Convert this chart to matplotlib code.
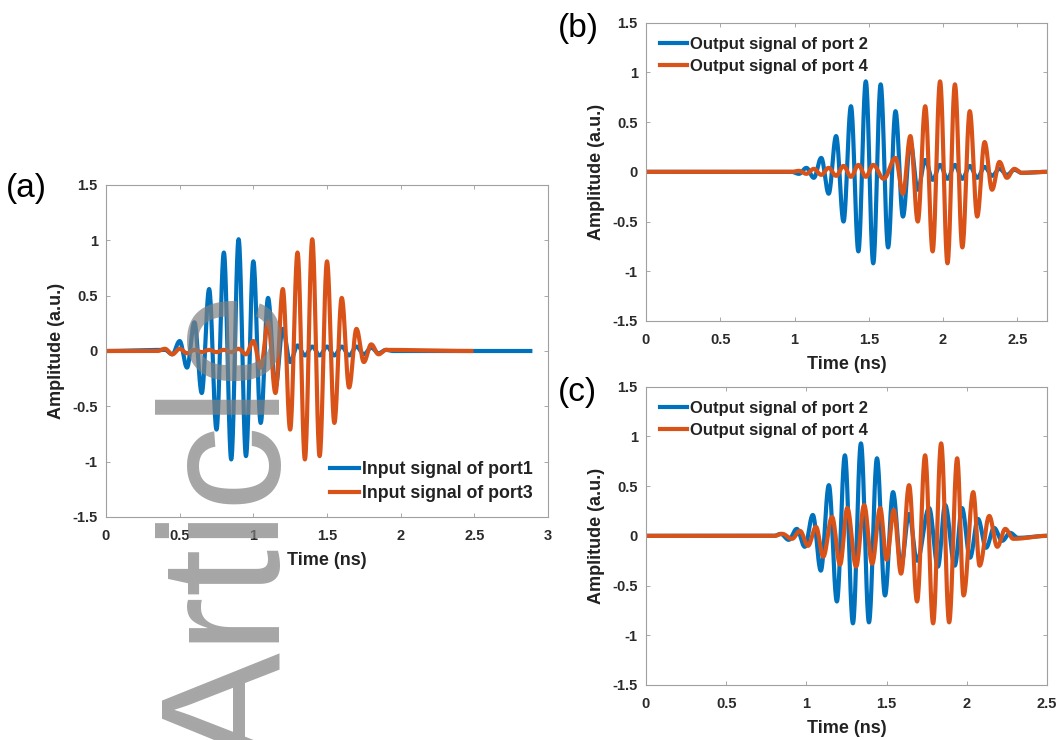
import matplotlib
matplotlib.use("Agg")
import matplotlib.pyplot as plt
import numpy as np
from matplotlib.ticker import FuncFormatter

plt.rcParams['font.family'] = ['Liberation Sans', 'DejaVu Sans']

BLUE = '#0072BD'
ORANGE = '#D95319'

# Extrema (time in ns, amplitude), panel (a)
ta_blue = [0.00, 0.40, 0.45, 0.50, 0.55, 0.60, 0.65, 0.70, 0.75, 0.80, 0.85, 0.90,
           0.95, 1.00, 1.05, 1.10, 1.15, 1.20, 1.25, 1.30, 1.35, 1.40, 1.45, 1.50,
           1.55, 1.60, 1.65, 1.70, 1.75, 1.80, 1.85, 1.90, 1.95, 2.88]
ya_blue = [0.00, 0.01, -0.03, 0.09, -0.15, 0.26, -0.38, 0.56, -0.71, 0.89, -0.98, 1.01,
           -0.95, 0.81, -0.65, 0.48, -0.33, 0.20, -0.10, 0.05, -0.04, 0.04, -0.04, 0.04,
           -0.04, 0.04, -0.04, 0.04, -0.03, 0.03, -0.02, 0.01, 0.00, 0.00]
ta_orange = [0.00, 0.35, 0.40, 0.45, 0.50, 0.55, 0.60, 0.65, 0.70, 0.75, 0.80, 0.85,
             0.90, 0.95, 1.00, 1.05, 1.10, 1.15, 1.20, 1.25, 1.30, 1.35, 1.40, 1.45,
             1.50, 1.55, 1.60, 1.65, 1.70, 1.75, 1.80, 1.85, 1.90, 2.48]
ya_orange = [0.00, 0.00, 0.02, -0.03, 0.02, -0.02, 0.01, -0.01, 0.01, -0.01, 0.01, -0.01,
             0.02, -0.03, 0.09, -0.15, 0.26, -0.38, 0.56, -0.71, 0.89, -0.98, 1.01, -0.95,
             0.81, -0.65, 0.48, -0.33, 0.20, -0.10, 0.06, -0.03, 0.01, 0.00]

# panel (b)
tb_blue = [0.00, 0.98, 1.03, 1.08, 1.13, 1.18, 1.23, 1.28, 1.33, 1.38, 1.43, 1.48,
           1.53, 1.58, 1.63, 1.68, 1.73, 1.78, 1.83, 1.88, 1.93, 1.98, 2.03, 2.08,
           2.13, 2.18, 2.23, 2.28, 2.33, 2.38, 2.43, 2.48, 2.53, 2.70]
yb_blue = [0.00, 0.00, -0.02, 0.04, -0.06, 0.14, -0.22, 0.36, -0.50, 0.66, -0.80, 0.91,
           -0.92, 0.88, -0.76, 0.61, -0.45, 0.30, -0.18, 0.12, -0.08, 0.07, -0.07, 0.07,
           -0.07, 0.06, -0.06, 0.05, -0.04, 0.03, -0.03, 0.02, -0.01, 0.00]
tb_orange = [0.00, 0.98, 1.03, 1.08, 1.13, 1.18, 1.23, 1.28, 1.33, 1.38, 1.43, 1.48,
             1.53, 1.60, 1.68, 1.73, 1.78, 1.83, 1.88, 1.93, 1.98, 2.03, 2.08, 2.13,
             2.18, 2.23, 2.28, 2.33, 2.38, 2.43, 2.48, 2.53, 2.70]
yb_orange = [0.00, 0.00, 0.01, -0.02, 0.03, -0.03, 0.04, -0.04, 0.06, -0.05, 0.07, -0.05,
             0.07, -0.07, 0.14, -0.22, 0.36, -0.50, 0.66, -0.80, 0.91, -0.92, 0.88, -0.76,
             0.61, -0.45, 0.30, -0.18, 0.10, -0.06, 0.03, -0.01, 0.00]

# panel (c)
tc_blue = [0.00, 0.80, 0.84, 0.89, 0.94, 0.99, 1.04, 1.09, 1.14, 1.19, 1.24, 1.29,
           1.34, 1.39, 1.44, 1.49, 1.54, 1.59, 1.64, 1.69, 1.765, 1.82, 1.865, 1.925,
           1.97, 2.02, 2.07, 2.12, 2.17, 2.22, 2.27, 2.32, 2.50]
yc_blue = [0.00, 0.00, 0.02, -0.04, 0.07, -0.11, 0.21, -0.35, 0.51, -0.66, 0.81, -0.88,
           0.93, -0.87, 0.78, -0.60, 0.44, -0.30, 0.22, -0.25, 0.28, -0.31, 0.31, -0.30,
           0.28, -0.22, 0.17, -0.12, 0.08, -0.05, 0.03, -0.02, 0.00]
tc_orange = [0.00, 0.80, 0.85, 0.91, 0.96, 1.01, 1.06, 1.105, 1.16, 1.21, 1.255, 1.31,
             1.36, 1.41, 1.46, 1.50, 1.545, 1.59, 1.64, 1.69, 1.74, 1.79, 1.84, 1.89,
             1.94, 1.98, 2.04, 2.08, 2.14, 2.19, 2.24, 2.29, 2.50]
yc_orange = [0.00, 0.00, 0.02, -0.03, 0.05, -0.10, 0.09, -0.21, 0.19, -0.29, 0.28, -0.31,
             0.31, -0.28, 0.28, -0.24, 0.26, -0.38, 0.51, -0.66, 0.81, -0.88, 0.93, -0.87,
             0.78, -0.60, 0.44, -0.30, 0.20, -0.11, 0.07, -0.03, 0.00]

legend_a = ['Input signal of port1', 'Input signal of port3']
legend_bc = ['Output signal of port 2', 'Output signal of port 4']


def smooth_wave(t, a, n=24):
    # join consecutive extrema with half-cosine arcs so the trace looks like a wave
    t = np.asarray(t, float)
    a = np.asarray(a, float)
    xs, ys = [], []
    s = np.linspace(0, 1, n, endpoint=False)
    for i in range(len(t) - 1):
        xs.append(t[i] + (t[i + 1] - t[i]) * s)
        ys.append(a[i] + (a[i + 1] - a[i]) * (1 - np.cos(np.pi * s)) / 2)
    xs.append([t[-1]])
    ys.append([a[-1]])
    return np.concatenate(xs), np.concatenate(ys)


def style_axes(ax, xmax, xticks):
    ax.set_xlim(0, xmax)
    ax.set_ylim(-1.5, 1.5)
    ax.set_xticks(xticks)
    ax.set_yticks([-1.5, -1, -0.5, 0, 0.5, 1, 1.5])
    fmt = FuncFormatter(lambda v, p: ('%g' % v))
    ax.xaxis.set_major_formatter(fmt)
    ax.yaxis.set_major_formatter(fmt)
    ax.tick_params(direction='in', top=True, right=True, length=3, width=0.6,
                   color='#9a9a9a', labelsize=10.5, labelcolor='#2a2a2a', pad=6)
    ax.tick_params(axis='x', pad=9)
    for lab in ax.get_xticklabels() + ax.get_yticklabels():
        lab.set_fontweight('bold')
    for sp in ax.spines.values():
        sp.set_color('#a0a0a0')
        sp.set_linewidth(0.8)
    ax.set_xlabel('Time (ns)', fontsize=13, fontweight='bold', color='#222222', labelpad=6)
    ax.set_ylabel('Amplitude (a.u.)', fontsize=13, fontweight='bold', color='#222222', labelpad=5)


fig = plt.figure(figsize=(10.63, 7.40), dpi=100)

ax_a = fig.add_axes([106 / 1063, (740 - 517) / 740, 442 / 1063, 332 / 740])
ax_b = fig.add_axes([646 / 1063, (740 - 321) / 740, 401 / 1063, 298.3 / 740])
ax_c = fig.add_axes([646 / 1063, (740 - 685) / 740, 401 / 1063, 298.3 / 740])

panels = [
    (ax_a, ta_blue, ya_blue, ta_orange, ya_orange, legend_a, 3.0, [0, 0.5, 1, 1.5, 2, 2.5, 3], 'lower right', 12.8),
    (ax_b, tb_blue, yb_blue, tb_orange, yb_orange, legend_bc, 2.7, [0, 0.5, 1, 1.5, 2, 2.5], 'upper left', 12),
    (ax_c, tc_blue, yc_blue, tc_orange, yc_orange, legend_bc, 2.5, [0, 0.5, 1, 1.5, 2, 2.5], 'upper left', 12),
]

for ax, t1, y1, t2, y2, labels, xmax, xt, loc, lfs in panels:
    x, y = smooth_wave(t1, y1)
    ax.plot(x, y, color=BLUE, lw=3.0, label=labels[0])
    x, y = smooth_wave(t2, y2)
    ax.plot(x, y, color=ORANGE, lw=3.0, label=labels[1])
    style_axes(ax, xmax, xt)
    leg = ax.legend(loc=loc, frameon=False, fontsize=lfs, handlelength=1.6,
                    handletextpad=0.2, borderaxespad=0.45, labelspacing=0.4)
    for txt in leg.get_texts():
        txt.set_fontweight('bold')
        txt.set_color('#222222')

# panel letters
fig.text(6 / 1063, 1 - 188 / 740, '(a)', fontsize=24, va='center', ha='left')
fig.text(558 / 1063, 1 - 29 / 740, '(b)', fontsize=24, va='center', ha='left')
fig.text(558 / 1063, 1 - 393 / 740, '(c)', fontsize=24, va='center', ha='left')

# journal watermark
fig.text(280 / 1063, 1 - 291 / 740, 'Article', fontsize=123, rotation=90,
         rotation_mode='anchor', ha='right', va='baseline', color='#808080',
         alpha=0.7, zorder=10)

fig.savefig('out.png', dpi=100)
